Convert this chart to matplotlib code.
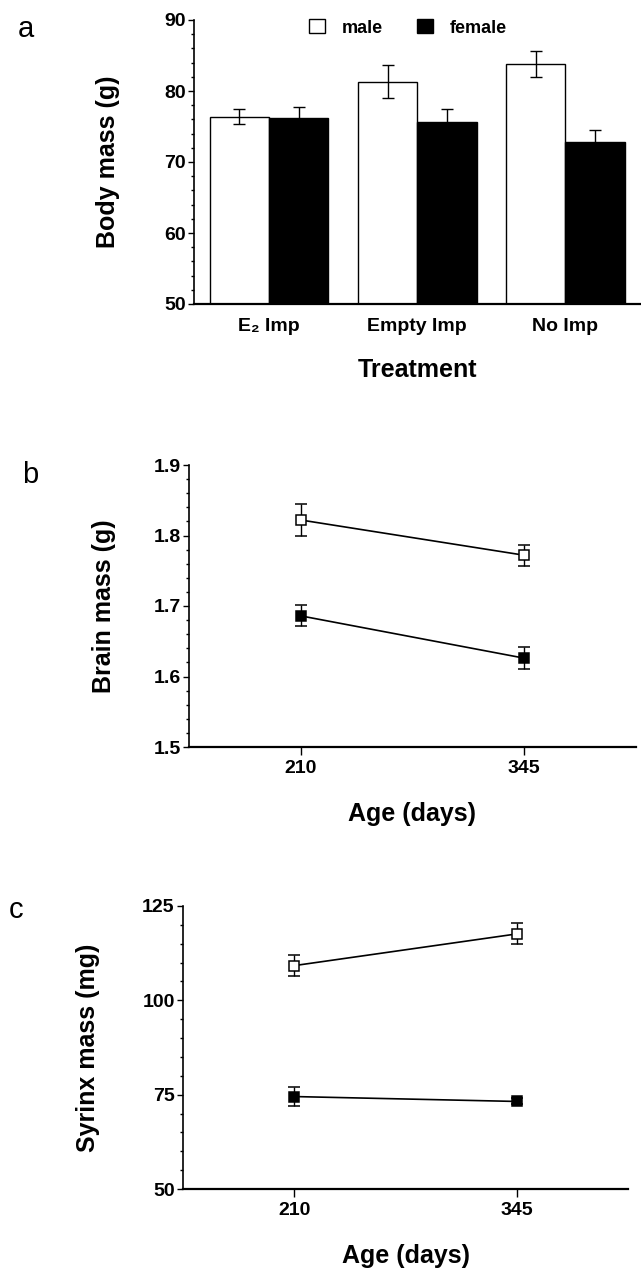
import numpy as np
import matplotlib
matplotlib.use("Agg")
import matplotlib.pyplot as plt
from matplotlib.patches import Patch
from matplotlib.ticker import MultipleLocator

plt.rcParams["font.family"] = ["Liberation Sans", "DejaVu Sans"]
plt.rcParams["font.weight"] = "bold"
plt.rcParams["axes.labelweight"] = "bold"

# Panel a: body mass by treatment
treatments = ["E₂ Imp", "Empty Imp", "No Imp"]
body_male = [76.4, 81.3, 83.8]
body_male_se = [1.1, 2.3, 1.85]
body_female = [76.2, 75.7, 72.8]
body_female_se = [1.5, 1.8, 1.65]

# Panels b and c: by age
ages = [210, 345]
brain_male = [1.822, 1.772]
brain_male_se = [0.022, 0.015]
brain_female = [1.686, 1.626]
brain_female_se = [0.015, 0.016]
syrinx_male = [109.2, 117.6]
syrinx_male_se = [2.7, 2.8]
syrinx_female = [74.5, 73.2]
syrinx_female_se = [2.4, 0.8]

W, H = 641, 1270
fig = plt.figure(figsize=(W / 100, H / 100), dpi=100)


def px_axes(left, top, right, bottom):
    return fig.add_axes([left / W, 1 - bottom / H, (right - left) / W, (bottom - top) / H])


def style_axes(ax):
    ax.spines["top"].set_visible(False)
    ax.spines["right"].set_visible(False)
    ax.spines["left"].set_linewidth(1.2)
    ax.spines["bottom"].set_linewidth(1.6)
    ax.tick_params(axis="y", which="major", direction="out", length=4.5, width=1, pad=1.5, labelsize=14)
    ax.tick_params(axis="y", which="minor", direction="out", length=2.2, width=1)
    ax.tick_params(axis="x", which="major", direction="out", length=5.5, width=1, pad=4, labelsize=14)
    ax.tick_params(axis="x", which="minor", length=0)


# ---- panel a ----
ax1 = px_axes(194, 20, 641, 304)
x = np.arange(len(treatments))
bw = 0.4
ax1.bar(x - bw / 2, body_male, bw, color="white", edgecolor="black", linewidth=1.0, zorder=2)
ax1.bar(x + bw / 2, body_female, bw, color="black", edgecolor="black", linewidth=1.0, zorder=2)
ax1.errorbar(x - bw / 2, body_male, yerr=body_male_se, fmt="none", ecolor="black",
             elinewidth=1, capsize=4, capthick=1, zorder=3)
ax1.errorbar(x + bw / 2, body_female, yerr=body_female_se, fmt="none", ecolor="black",
             elinewidth=1, capsize=4, capthick=1, zorder=1)
ax1.set_xlim(-0.507, 2.51)
ax1.set_ylim(50, 90)
style_axes(ax1)
ax1.yaxis.set_major_locator(MultipleLocator(10))
ax1.yaxis.set_minor_locator(MultipleLocator(2))
ax1.set_xticks(x)
ax1.set_xticklabels(treatments, fontsize=14)
ax1.tick_params(axis="x", length=0, pad=10)
ax1.set_ylabel("Body mass (g)", fontsize=18, va="center")
ax1.yaxis.set_label_coords((108 - 194) / 447, 0.5)
ax1.set_xlabel("Treatment", fontsize=18, va="center")
ax1.xaxis.set_label_coords(0.5, (304 - 370) / 284)
handles = [Patch(facecolor="white", edgecolor="black", linewidth=1),
           Patch(facecolor="black", edgecolor="black", linewidth=1)]
ax1.legend(handles, ["male", "female"], ncol=2, frameon=False, fontsize=13,
           loc="center left", bbox_to_anchor=((309 - 194) / 447, (304 - 28) / 284),
           borderaxespad=0, borderpad=0, handlelength=0.9, handleheight=0.8,
           handletextpad=0.9, columnspacing=1.9)


def line_panel(ax, male, male_se, female, female_se):
    ax.errorbar(ages, male, yerr=male_se, color="black", lw=1.2, marker="s", ms=6.5,
                mfc="white", mec="black", mew=1.1, ecolor="black", elinewidth=1,
                capsize=4, capthick=1)
    ax.errorbar(ages, female, yerr=female_se, color="black", lw=1.2, marker="s", ms=6.5,
                mfc="black", mec="black", mew=1.1, ecolor="black", elinewidth=1,
                capsize=4, capthick=1)
    ax.set_xlim(142.5, 412.5)
    ax.set_xticks(ages)
    style_axes(ax)


# ---- panel b ----
ax2 = px_axes(189, 465, 636, 747)
line_panel(ax2, brain_male, brain_male_se, brain_female, brain_female_se)
ax2.set_ylim(1.5, 1.9)
ax2.yaxis.set_major_locator(MultipleLocator(0.1))
ax2.yaxis.set_minor_locator(MultipleLocator(0.02))
ax2.set_ylabel("Brain mass (g)", fontsize=18, va="center")
ax2.yaxis.set_label_coords((104 - 189) / 447, 0.5)
ax2.set_xlabel("Age (days)", fontsize=18, va="center")
ax2.xaxis.set_label_coords(0.5, (747 - 814) / 282)

# ---- panel c ----
ax3 = px_axes(183, 906, 628, 1189)
line_panel(ax3, syrinx_male, syrinx_male_se, syrinx_female, syrinx_female_se)
ax3.set_ylim(50, 125)
ax3.yaxis.set_major_locator(MultipleLocator(25))
ax3.yaxis.set_minor_locator(MultipleLocator(5))
ax3.set_ylabel("Syrinx mass (mg)", fontsize=18, va="center")
ax3.yaxis.set_label_coords((88 - 183) / 445, 0.5)
ax3.set_xlabel("Age (days)", fontsize=18, va="center")
ax3.xaxis.set_label_coords(0.5, (1189 - 1256) / 283)

# panel letters
for letter, lx, ly in [("a", 18, 37), ("b", 22, 483), ("c", 9, 918)]:
    fig.text(lx / W, 1 - ly / H, letter, fontsize=21, fontweight="normal",
             ha="left", va="baseline")

fig.savefig("out.png", dpi=100)
